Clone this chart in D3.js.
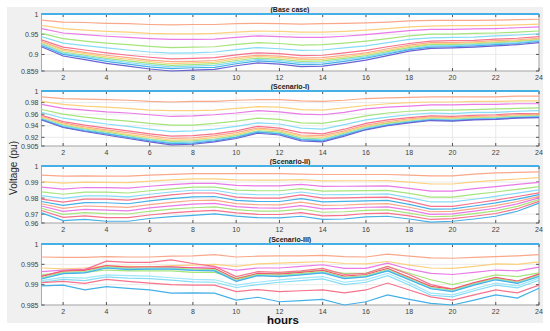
<!DOCTYPE html>
<html>
<head>
<meta charset="utf-8">
<script src="https://cdn.jsdelivr.net/npm/d3@7"></script>
<style>
  body { margin: 0; background: #fff; }
  svg { display: block; font-family: "Liberation Sans", Arial, sans-serif; }
</style>
</head>
<body>
<svg width="550" height="331"></svg>
<script>
// hours on the x axis
const hours = [1,2,3,4,5,6,7,8,9,10,11,12,13,14,15,16,17,18,19,20,21,22,23,24];
const xTicks = [2,4,6,8,10,12,14,16,18,20,22,24];
const slackBus = [1,1,1,1,1,1,1,1,1,1,1,1,1,1,1,1,1,1,1,1,1,1,1,1];

// (Base case) bus voltages, top to bottom
const baseCase = [
  [0.985,0.980,0.979,0.977,0.976,0.974,0.973,0.974,0.974,0.976,0.977,0.976,0.975,0.976,0.977,0.978,0.980,0.983,0.984,0.984,0.984,0.985,0.986,0.987],
  [0.972,0.964,0.960,0.957,0.955,0.952,0.951,0.951,0.952,0.955,0.958,0.957,0.955,0.955,0.957,0.960,0.964,0.968,0.970,0.971,0.971,0.972,0.973,0.975],
  [0.964,0.953,0.949,0.945,0.942,0.939,0.937,0.937,0.938,0.942,0.946,0.944,0.942,0.942,0.945,0.949,0.954,0.959,0.962,0.962,0.963,0.964,0.966,0.968],
  [0.952,0.939,0.933,0.928,0.924,0.920,0.917,0.918,0.919,0.925,0.929,0.927,0.923,0.924,0.928,0.933,0.939,0.946,0.950,0.950,0.952,0.953,0.955,0.958],
  [0.944,0.928,0.922,0.916,0.911,0.906,0.903,0.904,0.906,0.912,0.917,0.914,0.910,0.911,0.916,0.921,0.929,0.937,0.941,0.942,0.943,0.946,0.948,0.951],
  [0.936,0.918,0.911,0.904,0.898,0.893,0.889,0.890,0.892,0.899,0.904,0.902,0.897,0.898,0.904,0.910,0.919,0.927,0.933,0.934,0.935,0.938,0.940,0.944],
  [0.932,0.913,0.905,0.898,0.892,0.886,0.882,0.883,0.885,0.893,0.898,0.896,0.891,0.892,0.898,0.904,0.914,0.923,0.929,0.929,0.931,0.934,0.936,0.940],
  [0.930,0.910,0.902,0.894,0.888,0.882,0.877,0.879,0.881,0.889,0.895,0.892,0.887,0.888,0.894,0.901,0.910,0.920,0.926,0.927,0.929,0.931,0.934,0.938],
  [0.927,0.906,0.898,0.890,0.884,0.878,0.873,0.875,0.877,0.885,0.891,0.888,0.883,0.884,0.890,0.897,0.907,0.917,0.924,0.924,0.926,0.929,0.932,0.936],
  [0.925,0.903,0.895,0.887,0.880,0.874,0.869,0.871,0.873,0.881,0.888,0.885,0.879,0.880,0.887,0.894,0.904,0.914,0.921,0.922,0.924,0.927,0.929,0.934],
  [0.922,0.900,0.892,0.883,0.876,0.869,0.865,0.867,0.868,0.877,0.884,0.881,0.875,0.876,0.883,0.891,0.901,0.912,0.918,0.919,0.921,0.924,0.927,0.932],
  [0.919,0.896,0.887,0.878,0.871,0.864,0.859,0.861,0.863,0.872,0.879,0.876,0.870,0.871,0.878,0.886,0.897,0.908,0.915,0.916,0.918,0.921,0.924,0.929]
];

// (Scenario-I)
const scenario1 = [
  [0.990,0.987,0.986,0.985,0.984,0.982,0.981,0.982,0.982,0.984,0.985,0.985,0.983,0.982,0.984,0.987,0.988,0.989,0.990,0.990,0.990,0.990,0.991,0.991],
  [0.982,0.977,0.974,0.972,0.970,0.967,0.966,0.966,0.967,0.970,0.973,0.972,0.968,0.967,0.971,0.975,0.978,0.980,0.981,0.981,0.982,0.982,0.983,0.983],
  [0.977,0.970,0.967,0.964,0.962,0.959,0.956,0.957,0.959,0.962,0.966,0.964,0.960,0.959,0.963,0.969,0.972,0.974,0.976,0.976,0.977,0.977,0.978,0.978],
  [0.968,0.960,0.955,0.951,0.948,0.944,0.941,0.941,0.944,0.948,0.953,0.951,0.945,0.944,0.950,0.957,0.962,0.965,0.967,0.967,0.968,0.969,0.970,0.971],
  [0.963,0.953,0.948,0.943,0.939,0.934,0.930,0.931,0.934,0.939,0.945,0.943,0.936,0.934,0.942,0.950,0.955,0.959,0.962,0.961,0.963,0.963,0.965,0.966],
  [0.958,0.947,0.941,0.936,0.931,0.926,0.922,0.923,0.926,0.931,0.939,0.936,0.928,0.926,0.934,0.944,0.950,0.954,0.957,0.956,0.958,0.959,0.961,0.961],
  [0.956,0.945,0.938,0.933,0.928,0.923,0.918,0.919,0.923,0.928,0.936,0.933,0.924,0.923,0.931,0.941,0.947,0.952,0.955,0.954,0.956,0.957,0.959,0.960],
  [0.955,0.943,0.936,0.931,0.925,0.920,0.915,0.916,0.920,0.925,0.934,0.931,0.922,0.920,0.929,0.939,0.945,0.950,0.954,0.953,0.955,0.955,0.957,0.958],
  [0.953,0.941,0.934,0.929,0.923,0.917,0.913,0.914,0.917,0.923,0.931,0.929,0.919,0.917,0.927,0.937,0.944,0.948,0.952,0.951,0.953,0.954,0.956,0.957],
  [0.952,0.940,0.933,0.927,0.921,0.916,0.911,0.912,0.916,0.921,0.930,0.927,0.917,0.916,0.925,0.936,0.942,0.947,0.951,0.950,0.952,0.953,0.955,0.956],
  [0.951,0.938,0.931,0.926,0.920,0.914,0.909,0.910,0.914,0.920,0.929,0.926,0.916,0.914,0.924,0.934,0.941,0.946,0.950,0.949,0.951,0.952,0.954,0.955],
  [0.950,0.937,0.930,0.924,0.918,0.912,0.907,0.908,0.912,0.918,0.927,0.924,0.914,0.912,0.922,0.933,0.940,0.945,0.949,0.948,0.950,0.951,0.953,0.954]
];

// (Scenario-II)
const scenario2 = [
  [0.9943,0.9937,0.9939,0.9937,0.9937,0.9943,0.9948,0.9953,0.9953,0.9953,0.9953,0.9953,0.9950,0.9947,0.9947,0.9947,0.9947,0.9943,0.9939,0.9939,0.9950,0.9957,0.9960,0.9963],
  [0.9903,0.9893,0.9900,0.9898,0.9896,0.9906,0.9913,0.9920,0.9920,0.9913,0.9912,0.9912,0.9915,0.9907,0.9908,0.9908,0.9909,0.9899,0.9888,0.9888,0.9901,0.9911,0.9919,0.9928],
  [0.9868,0.9856,0.9866,0.9865,0.9862,0.9874,0.9884,0.9892,0.9892,0.9879,0.9876,0.9876,0.9885,0.9873,0.9874,0.9875,0.9876,0.9861,0.9844,0.9844,0.9859,0.9872,0.9885,0.9898],
  [0.9839,0.9824,0.9837,0.9837,0.9832,0.9846,0.9858,0.9868,0.9868,0.9850,0.9846,0.9846,0.9859,0.9844,0.9845,0.9847,0.9848,0.9829,0.9806,0.9806,0.9823,0.9838,0.9855,0.9872],
  [0.9815,0.9798,0.9814,0.9814,0.9808,0.9824,0.9838,0.9849,0.9849,0.9827,0.9821,0.9821,0.9838,0.9821,0.9822,0.9824,0.9826,0.9803,0.9776,0.9776,0.9793,0.9811,0.9831,0.9851],
  [0.9794,0.9775,0.9794,0.9794,0.9787,0.9805,0.9820,0.9832,0.9832,0.9806,0.9800,0.9800,0.9820,0.9800,0.9802,0.9804,0.9806,0.9780,0.9749,0.9749,0.9768,0.9787,0.9810,0.9833],
  [0.9779,0.9755,0.9772,0.9771,0.9765,0.9783,0.9797,0.9808,0.9810,0.9786,0.9779,0.9779,0.9797,0.9777,0.9780,0.9783,0.9786,0.9761,0.9732,0.9733,0.9751,0.9770,0.9794,0.9822],
  [0.9765,0.9736,0.9751,0.9747,0.9742,0.9760,0.9774,0.9785,0.9788,0.9766,0.9759,0.9758,0.9775,0.9755,0.9757,0.9763,0.9766,0.9743,0.9715,0.9717,0.9735,0.9753,0.9779,0.9811],
  [0.9751,0.9717,0.9730,0.9725,0.9721,0.9739,0.9752,0.9762,0.9767,0.9747,0.9739,0.9738,0.9753,0.9733,0.9736,0.9743,0.9746,0.9725,0.9699,0.9702,0.9719,0.9737,0.9764,0.9801],
  [0.9737,0.9699,0.9710,0.9703,0.9701,0.9718,0.9731,0.9740,0.9746,0.9728,0.9719,0.9719,0.9732,0.9712,0.9715,0.9724,0.9727,0.9707,0.9684,0.9688,0.9703,0.9721,0.9749,0.9791],
  [0.9723,0.9680,0.9689,0.9679,0.9678,0.9695,0.9708,0.9717,0.9724,0.9708,0.9699,0.9698,0.9710,0.9690,0.9692,0.9704,0.9707,0.9689,0.9667,0.9672,0.9687,0.9704,0.9734,0.9780],
  [0.9708,0.9660,0.9667,0.9656,0.9656,0.9673,0.9685,0.9693,0.9702,0.9688,0.9678,0.9677,0.9687,0.9667,0.9670,0.9683,0.9687,0.9670,0.9650,0.9656,0.9670,0.9687,0.9718,0.9769]
];

// (Scenario-III)
const scenario3 = [
  [0.9968,0.9967,0.9967,0.9969,0.9968,0.9968,0.9970,0.9971,0.9974,0.9968,0.9970,0.9971,0.9971,0.9972,0.9969,0.9968,0.9975,0.9970,0.9966,0.9965,0.9967,0.9969,0.9971,0.9974],
  [0.9941,0.9939,0.9941,0.9946,0.9945,0.9944,0.9947,0.9948,0.9950,0.9945,0.9951,0.9953,0.9955,0.9957,0.9952,0.9951,0.9957,0.9948,0.9941,0.9940,0.9945,0.9951,0.9950,0.9956],
  [0.9932,0.9936,0.9938,0.9942,0.9941,0.9941,0.9943,0.9942,0.9944,0.9935,0.9941,0.9941,0.9945,0.9949,0.9940,0.9940,0.9953,0.9938,0.9928,0.9925,0.9930,0.9936,0.9934,0.9943],
  [0.9925,0.9928,0.9930,0.9936,0.9934,0.9934,0.9934,0.9930,0.9930,0.9916,0.9926,0.9928,0.9932,0.9936,0.9928,0.9928,0.9945,0.9928,0.9912,0.9900,0.9912,0.9924,0.9920,0.9929],
  [0.9921,0.9934,0.9937,0.9958,0.9955,0.9955,0.9961,0.9952,0.9945,0.9920,0.9932,0.9930,0.9934,0.9940,0.9925,0.9928,0.9945,0.9925,0.9900,0.9889,0.9903,0.9917,0.9906,0.9926],
  [0.9920,0.9933,0.9935,0.9947,0.9943,0.9944,0.9944,0.9941,0.9940,0.9914,0.9928,0.9926,0.9930,0.9935,0.9921,0.9925,0.9940,0.9918,0.9896,0.9889,0.9905,0.9918,0.9909,0.9926],
  [0.9917,0.9930,0.9932,0.9944,0.9940,0.9941,0.9941,0.9938,0.9937,0.9911,0.9925,0.9923,0.9927,0.9932,0.9918,0.9922,0.9937,0.9915,0.9893,0.9886,0.9902,0.9915,0.9906,0.9923],
  [0.9915,0.9928,0.9930,0.9942,0.9938,0.9939,0.9939,0.9936,0.9935,0.9909,0.9923,0.9921,0.9925,0.9930,0.9916,0.9920,0.9935,0.9913,0.9891,0.9884,0.9900,0.9913,0.9904,0.9921],
  [0.9914,0.9927,0.9929,0.9941,0.9937,0.9938,0.9938,0.9935,0.9934,0.9908,0.9922,0.9920,0.9924,0.9929,0.9915,0.9919,0.9934,0.9912,0.9890,0.9883,0.9899,0.9912,0.9903,0.9920],
  [0.9910,0.9918,0.9916,0.9924,0.9922,0.9921,0.9917,0.9913,0.9912,0.9899,0.9906,0.9912,0.9916,0.9920,0.9906,0.9912,0.9928,0.9905,0.9879,0.9875,0.9890,0.9904,0.9897,0.9916],
  [0.9906,0.9913,0.9910,0.9919,0.9916,0.9915,0.9911,0.9907,0.9906,0.9893,0.9900,0.9906,0.9910,0.9914,0.9900,0.9906,0.9922,0.9899,0.9874,0.9870,0.9885,0.9899,0.9892,0.9911],
  [0.9905,0.9908,0.9903,0.9913,0.9908,0.9904,0.9900,0.9899,0.9899,0.9883,0.9888,0.9883,0.9885,0.9887,0.9880,0.9887,0.9904,0.9887,0.9870,0.9862,0.9875,0.9887,0.9880,0.9899],
  [0.9897,0.9899,0.9887,0.9895,0.9891,0.9887,0.9879,0.9880,0.9879,0.9862,0.9869,0.9858,0.9861,0.9864,0.9850,0.9858,0.9875,0.9864,0.9854,0.9850,0.9862,0.9875,0.9867,0.9891]
];

const titles = ["(Base case)", "(Scenario-I)", "(Scenario-II)", "(Scenario-III)"];
const yDomains = [[0.859, 1], [0.905, 1], [0.9645, 1], [0.985, 1]];
const yTickValues = [[0.859, 0.9, 0.95, 1], [0.905, 0.92, 0.94, 0.96, 0.98, 1], [0.9645, 0.97, 0.98, 0.99, 1], [0.985, 0.99, 0.995, 1]];
const yTickLabels = [["0.859", "0.9", "0.95", "1"], ["0.905", "0.92", "0.94", "0.96", "0.98", "1"], ["0.96", "0.97", "0.98", "0.99", "1"], ["0.985", "0.99", "0.995", "1"]];
const allSeries = [baseCase, scenario1, scenario2, scenario3];

// line colours per panel (top to bottom)
const c = {blue:"#45b0e6", salmon:"#f9a88a", yellow:"#fcd07e", magenta:"#e97ae6", green:"#a6e47c",
           cyan:"#86dcf6", pink:"#f6738c", red:"#f2576f", purple:"#6b62d4", lcyan:"#9fe6f8"};
const colorSets = [
  [c.salmon, c.yellow, c.magenta, c.green, c.cyan, c.pink, c.salmon, c.yellow, c.green, c.cyan, c.blue, c.purple],
  [c.salmon, c.yellow, c.magenta, c.green, c.cyan, c.pink, c.salmon, c.yellow, c.green, c.cyan, c.blue, c.purple],
  [c.salmon, c.yellow, c.magenta, c.green, c.cyan, c.pink, c.blue, c.salmon, c.magenta, c.green, c.pink, c.blue],
  [c.salmon, c.yellow, c.magenta, c.green, c.pink, c.red, c.green, c.cyan, c.blue, c.lcyan, c.cyan, c.pink, c.blue]
];

const svg = d3.select("svg");
svg.append("rect").attr("x", 7).attr("y", 7).attr("width", 536).attr("height", 316).attr("fill", "#f0f0f0");

const left = 41.5, right = 539;
const boxes = [[14, 71], [91, 146], [166, 223], [244, 305]];
const x = d3.scaleLinear().domain([1, 24]).range([left, right]);

boxes.forEach(([top, bottom], p) => {
  const y = d3.scaleLinear().domain(yDomains[p]).range([bottom, top]);
  const g = svg.append("g");

  g.append("rect").attr("x", left).attr("y", top).attr("width", right - left).attr("height", bottom - top)
    .attr("fill", "#fff");

  // grid
  g.selectAll(".vg").data(xTicks).enter().append("line")
    .attr("x1", d => x(d)).attr("x2", d => x(d)).attr("y1", top).attr("y2", bottom)
    .attr("stroke", "#e3e3e3").attr("stroke-width", 0.7);
  g.selectAll(".hg").data(yTickValues[p]).enter().append("line")
    .attr("x1", left).attr("x2", right).attr("y1", d => y(d)).attr("y2", d => y(d))
    .attr("stroke", "#e3e3e3").attr("stroke-width", 0.7);

  // axes box + ticks
  g.append("rect").attr("x", left).attr("y", top).attr("width", right - left).attr("height", bottom - top)
    .attr("fill", "none").attr("stroke", "#9a9a9a").attr("stroke-width", 0.8);
  xTicks.forEach(t => {
    g.append("line").attr("x1", x(t)).attr("x2", x(t)).attr("y1", bottom).attr("y2", bottom - 3).attr("stroke", "#555");
    g.append("line").attr("x1", x(t)).attr("x2", x(t)).attr("y1", top).attr("y2", top + 3).attr("stroke", "#555");
  });
  yTickValues[p].forEach(t => {
    g.append("line").attr("x1", left).attr("x2", left + 3).attr("y1", y(t)).attr("y2", y(t)).attr("stroke", "#555");
    g.append("line").attr("x1", right).attr("x2", right - 3).attr("y1", y(t)).attr("y2", y(t)).attr("stroke", "#555");
  });

  // tick labels
  g.selectAll(".xl").data(xTicks).enter().append("text")
    .attr("x", d => x(d)).attr("y", bottom + 8.5).attr("text-anchor", "middle")
    .attr("font-size", 7).attr("fill", "#404040").text(d => d);
  g.selectAll(".yl").data(yTickValues[p]).enter().append("text")
    .attr("x", left - 3).attr("y", d => y(d) + 2.5).attr("text-anchor", "end")
    .attr("font-size", 7).attr("fill", "#404040").text((d, i) => yTickLabels[p][i]);

  // title
  g.append("text").attr("x", 290).attr("y", top - 2.5).attr("text-anchor", "middle")
    .attr("font-size", 7).attr("font-weight", "bold").attr("fill", "#222").text(titles[p]);

  // bus voltage lines
  const line = d3.line().x((d, i) => x(hours[i])).y(d => y(d));
  g.selectAll(".bus").data(allSeries[p]).enter().append("path")
    .attr("d", line).attr("fill", "none")
    .attr("stroke", (d, i) => colorSets[p][i]).attr("stroke-width", 1.2);
  g.append("path").datum(slackBus).attr("d", line).attr("fill", "none")
    .attr("stroke", c.blue).attr("stroke-width", 2.2);
});

svg.append("text").attr("x", 283).attr("y", 324).attr("text-anchor", "middle")
  .attr("font-size", 11.5).attr("font-weight", "bold").attr("fill", "#111").text("hours");
svg.append("text").attr("transform", "translate(17,168) rotate(-90)").attr("text-anchor", "middle")
  .attr("font-size", 10).attr("fill", "#262626").text("Voltage (pu)");
</script>
</body>
</html>
